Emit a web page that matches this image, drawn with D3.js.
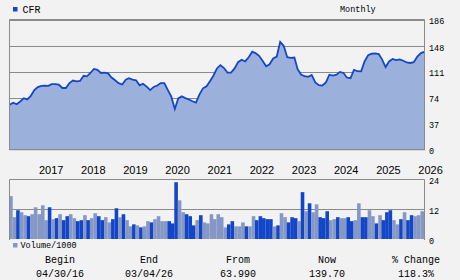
<!DOCTYPE html>
<html>
<head>
<meta charset="utf-8">
<script src="https://cdn.jsdelivr.net/npm/d3@7"></script>
<style>
  body { margin: 0; background: #f2f2f2; }
  text { font-family: "Liberation Mono", "DejaVu Sans Mono", monospace; fill: #000; }
  .yr { font-family: "Liberation Sans", Arial, sans-serif; font-size: 11px; }
</style>
</head>
<body>
<div id="chart"></div>
<script>
// monthly closes, May 2016 .. Mar 2026
var prices = [64, 66.9, 64.8, 68.7, 73.4, 71.6, 76.8, 85, 89.3, 91, 91.5, 91,
  93.5, 93.5, 93, 88, 88, 95, 98.6, 97.5, 98, 105.5, 104.7, 109.5,
  115.2, 114, 109.5, 110, 109, 103, 99, 95, 93, 100, 102, 100,
  99, 91.8, 94, 90, 85, 89.5, 91.5, 95, 95, 85, 76, 58,
  73, 76, 73.6, 71.6, 69, 67, 79, 87.5, 90.5, 98, 105.5, 116,
  120.7, 116.5, 110, 110, 116, 125, 128.5, 126, 132, 139.9, 138, 134,
  127, 119, 122, 130.3, 133, 154, 148, 132, 131, 131.5, 115, 107,
  105, 104, 106.7, 96, 92, 91.5, 96, 107, 105.7, 107, 111, 109.5,
  103, 102, 114, 112, 111.8, 126, 135, 137, 137.5, 136.5, 129, 118,
  126, 129.5, 128, 129, 127, 124.5, 123.8, 125, 133, 138, 139.7];

// volume in thousands
var volumes = [17.3, 8.8, 11.6, 10.8, 9.6, 9.2, 10, 12.8, 10, 13.6, 7.6, 12.8,
  8, 8.4, 10, 7.6, 9.2, 10, 8.4, 7.2, 7.6, 9.6, 7.6, 8.4,
  10.4, 9.2, 7.6, 8.8, 6.7, 8, 12.4, 8.8, 10, 7.6, 5.1, 5.9,
  5.5, 4.7, 5.1, 7.2, 6.7, 8, 9.2, 7.2, 7.2, 7.2, 6.3, 22.9,
  15.6, 10.8, 10, 9.2, 5.5, 7.6, 9.6, 6.7, 6.3, 10, 8, 10,
  8.8, 4.7, 5.9, 7.2, 5.1, 5.1, 6.7, 5.1, 5.1, 9.2, 7.6, 9.2,
  8.4, 8, 8, 5.1, 5.5, 10.4, 8.8, 6.7, 8.8, 8.4, 7.2, 18.9,
  11.2, 14.4, 10.8, 14, 8.8, 8.4, 11.2, 7.6, 8, 8.8, 8.4, 8.4,
  8.8, 7.2, 7.6, 14.4, 8.8, 8.8, 11.6, 9.2, 6.3, 9.6, 7.6, 10.8,
  11.6, 7.6, 5.9, 8, 10.8, 7.6, 9.6, 9.2, 9.6, 11.2, 10];

// 1 = month closed lower (dark bar)
var downMonth = [0, 0, 1, 0, 0, 1, 0, 0, 0, 0, 0, 1,
  0, 1, 0, 1, 1, 0, 0, 1, 1, 0, 1, 0,
  0, 1, 1, 0, 0, 1, 1, 0, 1, 0, 0, 1,
  0, 1, 0, 0, 1, 0, 0, 0, 0, 1, 1, 1,
  0, 0, 1, 1, 1, 0, 1, 0, 0, 0, 0, 0,
  0, 0, 1, 1, 0, 0, 0, 1, 0, 0, 1, 1,
  1, 1, 1, 0, 1, 0, 0, 1, 1, 1, 0, 1,
  0, 1, 0, 0, 1, 1, 1, 0, 0, 1, 0, 0,
  1, 1, 0, 0, 1, 1, 0, 0, 1, 0, 1, 1,
  1, 0, 0, 1, 0, 1, 1, 0, 0, 0, 0];

var years = [2017, 2018, 2019, 2020, 2021, 2022, 2023, 2024, 2025, 2026];
var priceTicks = [0, 37, 74, 111, 148, 186];
var volTicks = [0, 12, 24];
var tableHeads = ["Begin", "End", "From", "Now", "% Change"];
var tableVals = ["04/30/16", "03/04/26", "63.990", "139.70", "118.3%"];

var W = 460, H = 280;
var lineCol = "#1447c8", fillCol = "#9cb0dc", lightBar = "#8597c5", darkBar = "#1245c8", gridCol = "#8a8a8a";
var L = 9.5, R = 424.5;

var dates = prices.map(function(d, i) { return new Date(2016, 4 + i, 1); });

var svg = d3.select("#chart").append("svg").attr("width", W).attr("height", H);
svg.append("rect").attr("width", W).attr("height", H).attr("fill", "#f2f2f2");

var x = d3.scaleTime().domain([new Date(2016, 3, 30), new Date(2026, 2, 4)]).range([L, R]);
var y = d3.scaleLinear().domain([0, 186]).range([149.5, 19.5]);
var yv = d3.scaleLinear().domain([0, 24]).range([239, 179.5]);

var defs = svg.append("defs");
defs.append("clipPath").attr("id", "cp").append("rect").attr("x", L).attr("y", 19).attr("width", R - L).attr("height", 131);
defs.append("clipPath").attr("id", "cv").append("rect").attr("x", L).attr("y", 179).attr("width", R - L).attr("height", 61);

// price panel grid
svg.append("g").selectAll("line").data(priceTicks.slice(1)).enter().append("line")
  .attr("x1", L).attr("x2", R).attr("y1", function(d) { return Math.round(y(d)) + 0.5; })
  .attr("y2", function(d) { return Math.round(y(d)) + 0.5; })
  .attr("stroke", gridCol);

var area = d3.area().x(function(d, i) { return x(dates[i]); }).y0(y(0)).y1(function(d) { return y(d); });
var line = d3.line().x(function(d, i) { return x(dates[i]); }).y(function(d) { return y(d); });

var pg = svg.append("g").attr("clip-path", "url(#cp)");
pg.append("path").datum(prices).attr("d", area).attr("fill", fillCol);
pg.append("path").datum(prices).attr("d", line).attr("fill", "none").attr("stroke", lineCol).attr("stroke-width", 1.8);

// frame
svg.append("path").attr("d", "M" + L + "," + 150 + "V19.5H" + R + "V150").attr("fill", "none").attr("stroke", gridCol);
svg.append("line").attr("x1", L).attr("x2", R).attr("y1", 149.5).attr("y2", 149.5).attr("stroke", gridCol);
svg.append("line").attr("x1", L).attr("x2", R + 1).attr("y1", 150.5).attr("y2", 150.5).attr("stroke", "#d8d8d8");

svg.append("g").selectAll("text").data(priceTicks).enter().append("text")
  .attr("x", 429).attr("y", function(d) { return y(d) + 4.5; })
  .style("font-size", "8.5px").text(function(d) { return d; });

// years
svg.append("g").selectAll("text").data(years).enter().append("text").attr("class", "yr")
  .attr("x", function(d) { return x(new Date(d, 0, 1)) + 1; }).attr("y", 174)
  .text(function(d) { return d; });

// volume panel
svg.append("line").attr("x1", L).attr("x2", R).attr("y1", Math.round(yv(12)) + 0.5).attr("y2", Math.round(yv(12)) + 0.5).attr("stroke", gridCol);
var vg = svg.append("g").attr("clip-path", "url(#cv)");
vg.selectAll("rect").data(volumes).enter().append("rect")
  .attr("x", function(d, i) { return x(dates[i]) - 0.5; })
  .attr("width", 3.6)
  .attr("y", function(d) { return yv(d); })
  .attr("height", function(d) { return yv(0) - yv(d); })
  .attr("fill", function(d, i) { return downMonth[i] ? darkBar : lightBar; });
svg.append("path").attr("d", "M" + L + ",240V179.5H" + R + "V240").attr("fill", "none").attr("stroke", gridCol);

svg.append("g").selectAll("text").data(volTicks).enter().append("text")
  .attr("x", 429).attr("y", function(d) { return yv(d) + 4.5; })
  .style("font-size", "8.5px").text(function(d) { return d; });

// legends
svg.append("rect").attr("x", 13).attr("y", 7).attr("width", 4.5).attr("height", 4.5).attr("fill", lineCol);
svg.append("text").attr("x", 22.5).attr("y", 13).style("font-size", "10px").text("CFR");
svg.append("text").attr("x", 340).attr("y", 12).style("font-size", "8.5px").text("Monthly");
svg.append("rect").attr("x", 13).attr("y", 243).attr("width", 4.5).attr("height", 4.5).attr("fill", lightBar);
svg.append("text").attr("x", 20.5).attr("y", 247.5).style("font-size", "8.5px").text("Volume/1000");

// summary table
var col = d3.scalePoint().domain(d3.range(tableHeads.length)).range([60, 416]);
svg.append("g").selectAll("text").data(tableHeads).enter().append("text")
  .attr("x", function(d, i) { return col(i); }).attr("y", 263).attr("text-anchor", "middle")
  .style("font-size", "10px").text(function(d) { return d; });
svg.append("g").selectAll("text").data(tableVals).enter().append("text")
  .attr("x", function(d, i) { return col(i); }).attr("y", 277).attr("text-anchor", "middle")
  .style("font-size", "10px").text(function(d) { return d; });
</script>
</body>
</html>
